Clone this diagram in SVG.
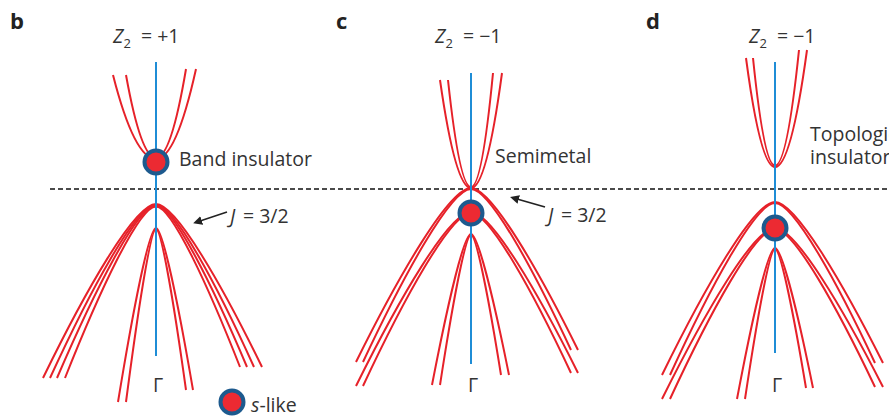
<svg xmlns="http://www.w3.org/2000/svg" width="889" height="417" viewBox="0 0 889 417">
<style>
.lbl{font-family:"Open Sans","Liberation Sans",sans-serif;font-size:19.5px;fill:#333}
.pl{font-family:"Open Sans","Liberation Sans",sans-serif;font-size:22px;font-weight:bold;fill:#222}
.band{fill:none;stroke:#e62129;stroke-width:2}
.axis{stroke:#1f8dd6;stroke-width:2}
.dot{fill:#ec2a32;stroke:#1d5a8e;stroke-width:4}
.arr{stroke:#222;stroke-width:1.6;fill:none}
</style>
<defs>
<marker id="ah" viewBox="0 0 10 10" refX="2" refY="5" markerWidth="9" markerHeight="9" markerUnits="userSpaceOnUse" orient="auto-start-reverse">
<path d="M0,0 L10,5 L0,10 Z" fill="#222"/>
</marker>
</defs>
<rect width="889" height="417" fill="#fff"/>

<g id="fermi-level">
<line x1="50" y1="189" x2="889" y2="189" stroke="#111" stroke-width="1.5" stroke-dasharray="5,3"/>
</g>

<g id="panel-b">
<text class="pl" x="10" y="29">b</text>
<text class="lbl" x="113" y="43"><tspan font-style="italic">Z</tspan><tspan font-size="13" dy="5">2</tspan><tspan x="141" dy="-5">= +1</tspan></text>
<g id="b-bands">
<path class="band" d="M113,75 Q134.5,159 156,159 Q176,159 196,69"/>
<path class="band" d="M126,75 Q141,158 156,158 Q171,158 186,69"/>
<path class="band" d="M43,378 C85.4,291 134.8,204 156,204 C175.9,204 222.3,285.5 262,367"/>
<path class="band" d="M50,378 C89.8,291.4 136.1,204.8 156,204.8 C174.4,204.8 217.3,285.9 254,367"/>
<path class="band" d="M57,378 C94.1,291.8 137.4,205.6 156,205.6 C173.1,205.6 212.9,286.3 247,367"/>
<path class="band" d="M65,378 C99.1,292.2 138.9,206.4 156,206.4 C171.8,206.4 208.5,286.7 240,367"/>
<path class="band" d="M118,402 C132.3,315 148.9,228 156,228 C162.9,228 179.1,309 193,390"/>
<path class="band" d="M126,402 C137.3,315.5 150.4,229 156,229 C161.6,229 174.8,309.5 186,390"/>
</g>
<line class="axis" x1="156" y1="62" x2="156" y2="356"/>
<circle class="dot" cx="156" cy="162" r="11.5"/>
<text class="lbl" x="179" y="166">Band insulator</text>
<text class="lbl" x="230" y="223"><tspan font-style="italic">J</tspan><tspan x="243">= 3/2</tspan></text>
<text class="lbl" x="158" y="392" text-anchor="middle">Γ</text>
</g>

<g id="panel-c">
<text class="pl" x="336" y="29">c</text>
<text class="lbl" x="435" y="43"><tspan font-style="italic">Z</tspan><tspan font-size="13" dy="5">2</tspan><tspan x="463" dy="-5">= −1</tspan></text>
<g id="c-bands">
<path class="band" d="M440,80 Q455.5,188 471,188 Q486.5,188 502,73"/>
<path class="band" d="M448,80 Q459.5,187 471,187 Q482,187 493,73"/>
<path class="band" d="M356,362 C399.1,275 449.4,188 471,188 C491.1,188 537.9,269 578,350"/>
<path class="band" d="M363,362 C403.5,275.5 450.8,189 471,189 C489.8,189 533.5,269.5 571,350"/>
<path class="band" d="M356,386 C399.1,299 449.4,212 471,212 C491.1,212 537.9,292.5 578,373"/>
<path class="band" d="M363,386 C403.5,299.5 450.8,213 471,213 C489.8,213 533.5,293 571,373"/>
<path class="band" d="M432,385 C446.6,309.5 463.7,234 471,234 C478.1,234 494.8,304.5 509,375"/>
<path class="band" d="M440,385 C451.6,310 465.2,235 471,235 C476.6,235 489.8,305 501,375"/>
</g>
<line class="axis" x1="471" y1="73" x2="471" y2="364"/>
<circle class="dot" cx="471" cy="213" r="11.5"/>
<text class="lbl" x="495" y="163">Semimetal</text>
<text class="lbl" x="548" y="222"><tspan font-style="italic">J</tspan><tspan x="561">= 3/2</tspan></text>
<text class="lbl" x="473" y="392" text-anchor="middle">Γ</text>
</g>

<g id="panel-d">
<text class="pl" x="646" y="29">d</text>
<text class="lbl" x="749" y="43"><tspan font-style="italic">Z</tspan><tspan font-size="13" dy="5">2</tspan><tspan x="777" dy="-5">= −1</tspan></text>
<g id="d-bands">
<path class="band" d="M746,58 Q760.5,167 775,167 Q791,167 807,50"/>
<path class="band" d="M753,58 Q764,165.5 775,165.5 Q787,165.5 799,50"/>
<path class="band" d="M662,375 C704.4,288.5 753.8,202 775,202 C795.3,202 842.5,282.5 883,363"/>
<path class="band" d="M670,375 C709.4,289 755.3,203 775,203 C793.8,203 837.5,283 875,363"/>
<path class="band" d="M662,399 C704.4,313.5 753.8,228 775,228 C795.3,228 842.5,307.5 883,387"/>
<path class="band" d="M670,399 C709.4,314 755.3,229 775,229 C793.8,229 837.5,308 875,387"/>
<path class="band" d="M737,399 C751.3,323.5 767.9,248 775,248 C782.1,248 798.8,318 813,388"/>
<path class="band" d="M745,399 C756.3,324 769.4,249 775,249 C780.8,249 794.4,318.5 806,388"/>
</g>
<line class="axis" x1="775" y1="62" x2="775" y2="353"/>
<circle class="dot" cx="775" cy="228" r="11.5"/>
<text class="lbl" x="810" y="141">Topological</text>
<text class="lbl" x="810" y="164">insulator</text>
<text class="lbl" x="777" y="392" text-anchor="middle">Γ</text>
</g>

<g id="connectors">
<line class="arr" x1="227" y1="212" x2="200" y2="221" marker-end="url(#ah)"/>
<line class="arr" x1="545" y1="207" x2="517" y2="199" marker-end="url(#ah)"/>
</g>

<g id="legend">
<circle class="dot" cx="232" cy="402" r="11.5"/>
<text class="lbl" x="251" y="412" font-size="20.5"><tspan font-style="italic">s</tspan>-like</text>
</g>
</svg>
